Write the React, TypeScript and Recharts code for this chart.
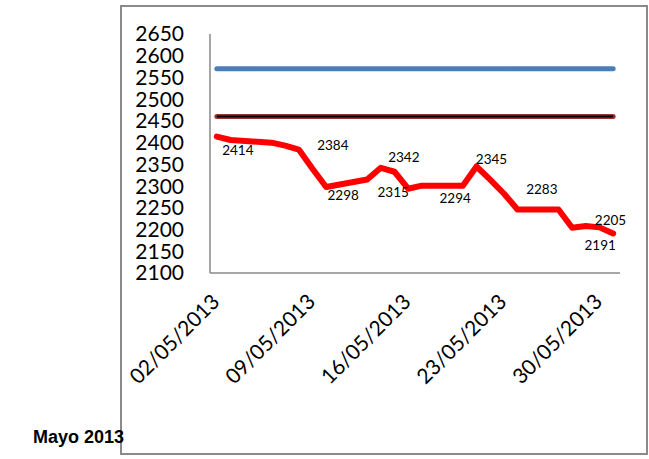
import React from 'react';
import { LineChart, Line, XAxis, YAxis, LabelList } from 'recharts';

// Trading days of May 2013 and the closing values
const DAYS = [2, 3, 6, 7, 8, 9, 10, 13, 14, 15, 16, 17, 20, 21, 22, 23, 24, 27, 28, 29, 30, 31];
const CLOSE = [2414, 2406, 2400, 2393, 2384, 2340, 2298, 2315, 2342, 2333, 2294, 2301, 2301, 2345, 2315, 2283, 2246, 2246, 2204, 2208, 2205, 2191];
const UPPER = 2570;
const LOWER = 2460;

const Y_TICKS = [2100, 2150, 2200, 2250, 2300, 2350, 2400, 2450, 2500, 2550, 2600, 2650];
const X_TICKS = [2, 9, 16, 23, 30];
const LABELED_DAYS = [2, 8, 10, 13, 14, 16, 21, 23, 30, 31];

// where each data label sits relative to its point
const LABEL_OFFSETS: Record<number, [number, number]> = {
  2: [21, 13],
  8: [34, -5],
  10: [17, 8],
  13: [26, 12],
  14: [23, -11],
  16: [47, 9],
  21: [15, -8],
  23: [38, -4],
  30: [11, -7],
  31: [-13, 12],
};

const data = DAYS.map((day, i) => ({ day, close: CLOSE[i], upper: UPPER, lower: LOWER }));

const fmtDate = (d: number) => `${String(d).padStart(2, '0')}/05/2013`;

const DateTick = (props: any) => {
  const { x, y, payload } = props;
  const tx = x + 4;
  const ty = y + 22;
  return (
    <text
      x={tx}
      y={ty}
      textAnchor="end"
      transform={`rotate(-45, ${tx}, ${ty})`}
      fontFamily="Lato, sans-serif"
      fontSize={21}
      fill="#000"
    >
      {fmtDate(payload.value)}
    </text>
  );
};

const PointLabel = (props: any) => {
  const { x, y, value, index } = props;
  const day = data[index]?.day;
  if (!LABELED_DAYS.includes(day)) return null;
  const [dx, dy] = LABEL_OFFSETS[day] || [0, 0];
  return (
    <text
      x={x + dx}
      y={y + dy}
      textAnchor="middle"
      dominantBaseline="central"
      fontFamily="Lato, sans-serif"
      fontSize={13.5}
      fill="#000"
    >
      {value}
    </text>
  );
};

export default function App() {
  return (
    <div style={{ position: 'absolute', left: 0, top: 0, width: 649, height: 459, background: '#fff' }}>
      <div
        style={{
          position: 'absolute',
          left: 120,
          top: 5,
          width: 528,
          height: 450,
          boxSizing: 'border-box',
          border: '2px solid #8a8a8a',
        }}
      />
      <div
        style={{
          position: 'absolute',
          left: 33,
          top: 426,
          fontFamily: '"Liberation Sans", Arial, sans-serif',
          fontWeight: 'bold',
          fontSize: 18,
          lineHeight: '22px',
          color: '#000',
        }}
      >
        Mayo 2013
      </div>
      <div style={{ position: 'absolute', left: 0, top: 0 }}>
        <LineChart width={649} height={459} data={data} margin={{ top: 34, right: 29, left: 120, bottom: 36 }}>
          <XAxis
            dataKey="day"
            type="number"
            domain={[1.5, 31.5]}
            ticks={X_TICKS}
            tick={<DateTick />}
            tickLine={false}
            axisLine={{ stroke: '#8a8a8a', strokeWidth: 1.5 }}
            height={150}
            interval={0}
          />
          <YAxis
            type="number"
            domain={[2100, 2650]}
            ticks={Y_TICKS}
            interval={0}
            width={90}
            tickLine={false}
            tickSize={6}
            tickMargin={20}
            axisLine={{ stroke: '#8a8a8a', strokeWidth: 1.5 }}
            tick={{ fontFamily: 'Lato, sans-serif', fontSize: 21, fill: '#000' }}
          />
          <Line
            dataKey="upper"
            stroke="#4a7ebb"
            strokeWidth={5}
            strokeLinecap="round"
            dot={false}
            isAnimationActive={false}
          />
          <Line
            dataKey="lower"
            stroke="#953735"
            strokeWidth={5}
            strokeLinecap="round"
            dot={false}
            isAnimationActive={false}
          />
          <Line
            dataKey="lower"
            stroke="#000"
            strokeWidth={2}
            dot={false}
            isAnimationActive={false}
          />
          <Line
            dataKey="close"
            stroke="#ff0000"
            strokeWidth={6}
            strokeLinejoin="round"
            strokeLinecap="round"
            dot={false}
            isAnimationActive={false}
          >
            <LabelList dataKey="close" content={<PointLabel />} />
          </Line>
        </LineChart>
      </div>
    </div>
  );
}
